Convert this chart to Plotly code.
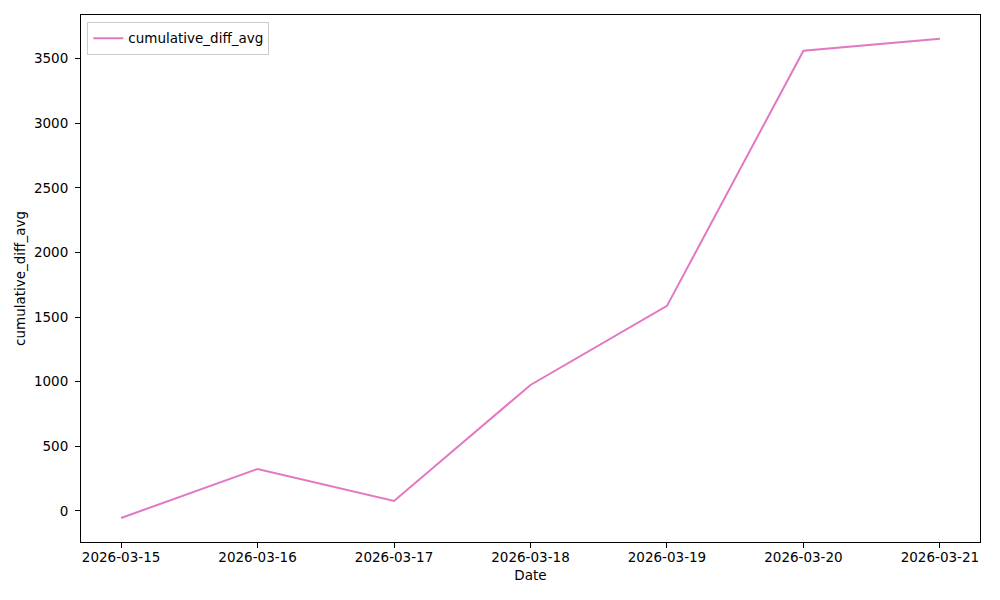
import plotly.graph_objects as go

dates = ["2026-03-15", "2026-03-16", "2026-03-17", "2026-03-18", "2026-03-19", "2026-03-20", "2026-03-21"]
cumulative_diff_avg = [-54, 325, 77, 975, 1587, 3562, 3655]
y_ticks = [0, 500, 1000, 1500, 2000, 2500, 3000, 3500]

fig = go.Figure()
fig.add_trace(go.Scatter(
    x=dates, y=cumulative_diff_avg, mode="lines", name="cumulative_diff_avg",
    line=dict(color="#e377c2", width=2),
))

font = dict(family="DejaVu Sans", size=13.5, color="black")
fig.update_layout(
    width=992, height=592,
    margin=dict(l=73, r=20, t=7, b=58),
    paper_bgcolor="white", plot_bgcolor="white",
    font=font,
    showlegend=True,
    legend=dict(x=0.007, y=0.987, xanchor="left", yanchor="top",
                bordercolor="#cccccc", borderwidth=1, bgcolor="rgba(255,255,255,0.8)",
                tracegroupgap=0, itemwidth=30,
                font=dict(family="DejaVu Sans", size=13.5, color="black")),
    xaxis=dict(
        title=dict(text="Date", font=font, standoff=6),
        type="date",
        range=["2026-03-14 16:57", "2026-03-21 07:03"],
        tickvals=dates, ticktext=dates,
        showgrid=False, zeroline=False,
        showline=True, linecolor="black", linewidth=1, mirror=True,
        ticks="outside", ticklen=5, tickcolor="black",
        ticklabelstandoff=-2,
    ),
    yaxis=dict(
        title=dict(text="cumulative_diff_avg", font=font, standoff=5),
        range=[-240, 3838],
        tickvals=y_ticks,
        showgrid=False, zeroline=False,
        showline=True, linecolor="black", linewidth=1, mirror=True,
        ticks="outside", ticklen=5, tickcolor="black",
        ticklabelstandoff=4,
    ),
)

fig.write_html("out.html")
